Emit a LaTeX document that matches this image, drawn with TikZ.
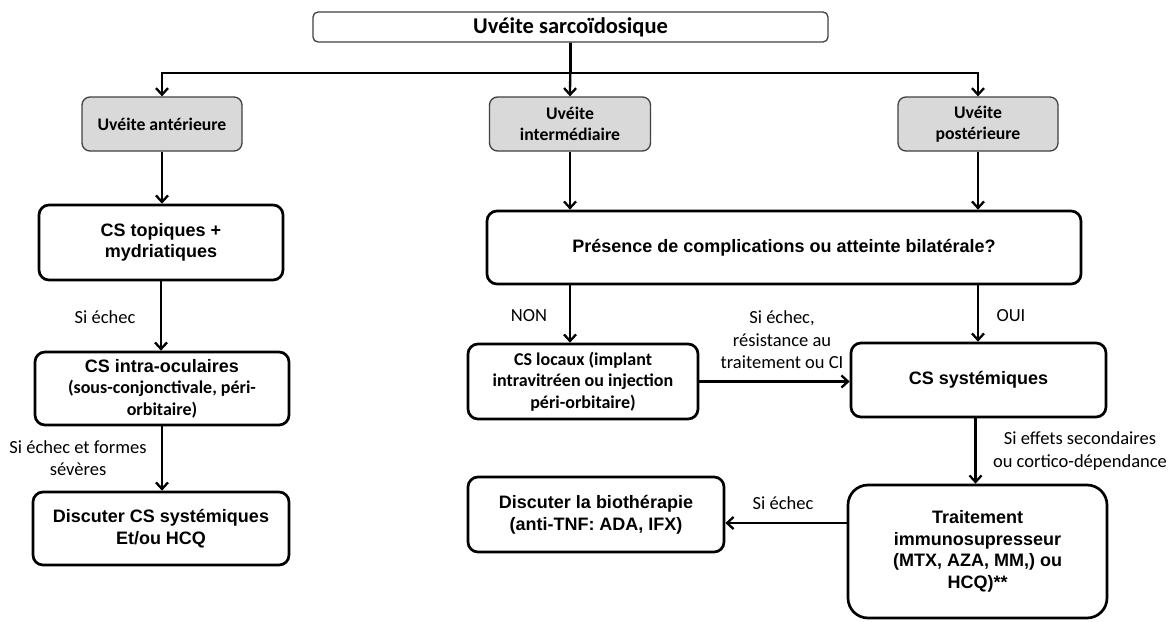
\documentclass[tikz,border=0pt]{standalone}
\usepackage{fontspec}
\setmainfont{Liberation Sans}
\newfontfamily\carl{Carlito}
\usetikzlibrary{arrows.meta,calc}
\newcommand\fA{\fontsize{18}{21.6}\selectfont\bfseries}
\newcommand\fC{\carl\fontsize{18}{21.6}\selectfont\bfseries}
\newcommand\fG{\carl\fontsize{17.7}{21}\selectfont\bfseries}
\newcommand\fL{\carl\fontsize{18.5}{22.5}\selectfont}
\newcommand\fT{\carl\fontsize{22.5}{27}\selectfont\bfseries}
\definecolor{gfill}{HTML}{D9D9D9}
\tikzset{
  box/.style={draw, line width=2.7pt, rounded corners=10pt, align=center, inner sep=0pt, font=\fA},
  gbox/.style={draw=black!75, line width=1.3pt, fill=gfill, rounded corners=8pt, align=center, inner sep=0pt, font=\fG},
  sz/.style 2 args={minimum width=#1pt, minimum height=#2pt},
  arr/.style={line width=2.3pt, -{Straight Barb[length=6.5pt,width=12pt]}},
  lab/.style={font=\fL, align=center, inner sep=0pt}
}
\begin{document}
\begin{tikzpicture}[x=1pt,y=-1pt]
\useasboundingbox (0,0) rectangle (1169,621);
% title
\node[draw=black!75, line width=1.3pt, rounded corners=5pt, sz={515}{30}, inner sep=0pt, font=\fT] (top) at (570.5,27) {Uvéite sarcoïdosique};
% gray boxes
\node[gbox, sz={160}{54}] (ga) at (162,124) {Uvéite antérieure};
\node[gbox, sz={161}{54}] (gm) at (570,124) {Uvéite\\intermédiaire};
\node[gbox, sz={160}{54}] (gp) at (978,124) {Uvéite\\postérieure};
% left column
\node[box, sz={244}{75}] (cst) at (161,242.5) {CS topiques +\\mydriatiques};
\node[box, sz={254}{73}] (csi) at (162,388.5) {CS intra-oculaires\\{\fC (sous-conjonctivale, péri-}\\{\fC orbitaire)}};
\node[box, sz={256}{73}] (dcs) at (161,528.5) {Discuter CS systémiques\\Et/ou HCQ};
% middle / right
\node[box, sz={594}{73}] (pres) at (784,247.5) {Présence de complications ou atteinte bilatérale?};
\node[box, sz={230}{75}, font=\fC] (csl) at (583,381.5) {CS locaux (implant\\intravitréen ou injection\\péri-orbitaire)};
\node[box, sz={255}{74}] (css) at (978.5,380) {CS systémiques};
\node[box, sz={256}{75}] (bio) at (596,514.5) {Discuter la biothérapie\\(anti-TNF: ADA, IFX)};
\node[box, sz={259}{133}, rounded corners=20pt] (trt) at (977.5,551.5) {Traitement\\immunosupresseur\\(MTX, AZA, MM,) ou\\HCQ)**};
% labels
\node[lab] (l1) at (105,317) {Si échec};
\node[lab] (l2) at (78,458) {Si échec et formes\\sévères};
\node[lab] (l3) at (529,316) {NON};
\node[lab] (l4) at (1011,316) {OUI};
\node[lab] (l5) at (782,340) {Si échec,\\résistance au\\traitement ou CI};
\node[lab] (l6) at (1080,451) {Si effets secondaires\\ou cortico-dépendance};
\node[lab] (l7) at (783,503) {Si échec};
% connectors
\draw[arr] (top.south) -- (gm.north);
\draw[arr] (top.south) -- ++(0,30) -| (ga.north);
\draw[arr] (top.south) -- ++(0,30) -| (gp.north);
\draw[arr] (ga.south) -- (ga.south |- cst.north);
\draw[arr] (cst.south) -- (cst.south |- csi.north);
\draw[arr] (csi.south) -- (csi.south |- dcs.north);
\draw[arr] (gm.south) -- (gm.south |- pres.north);
\draw[arr] (gp.south) -- (gp.south |- pres.north);
\draw[arr] (gm.south |- pres.south) -- (gm.south |- csl.north);
\draw[arr] (gp.south |- pres.south) -- (gp.south |- css.north);
\draw[arr] (csl.east) -- (csl.east -| css.west);
\draw[arr] ($(css.south)+(-3,0)$) -- ($(css.south |- trt.north)+(-3,0)$);
\draw[arr] ($(bio.east -| trt.west)+(0,8.5)$) -- ($(bio.east)+(0,8.5)$);
\end{tikzpicture}
\end{document}
